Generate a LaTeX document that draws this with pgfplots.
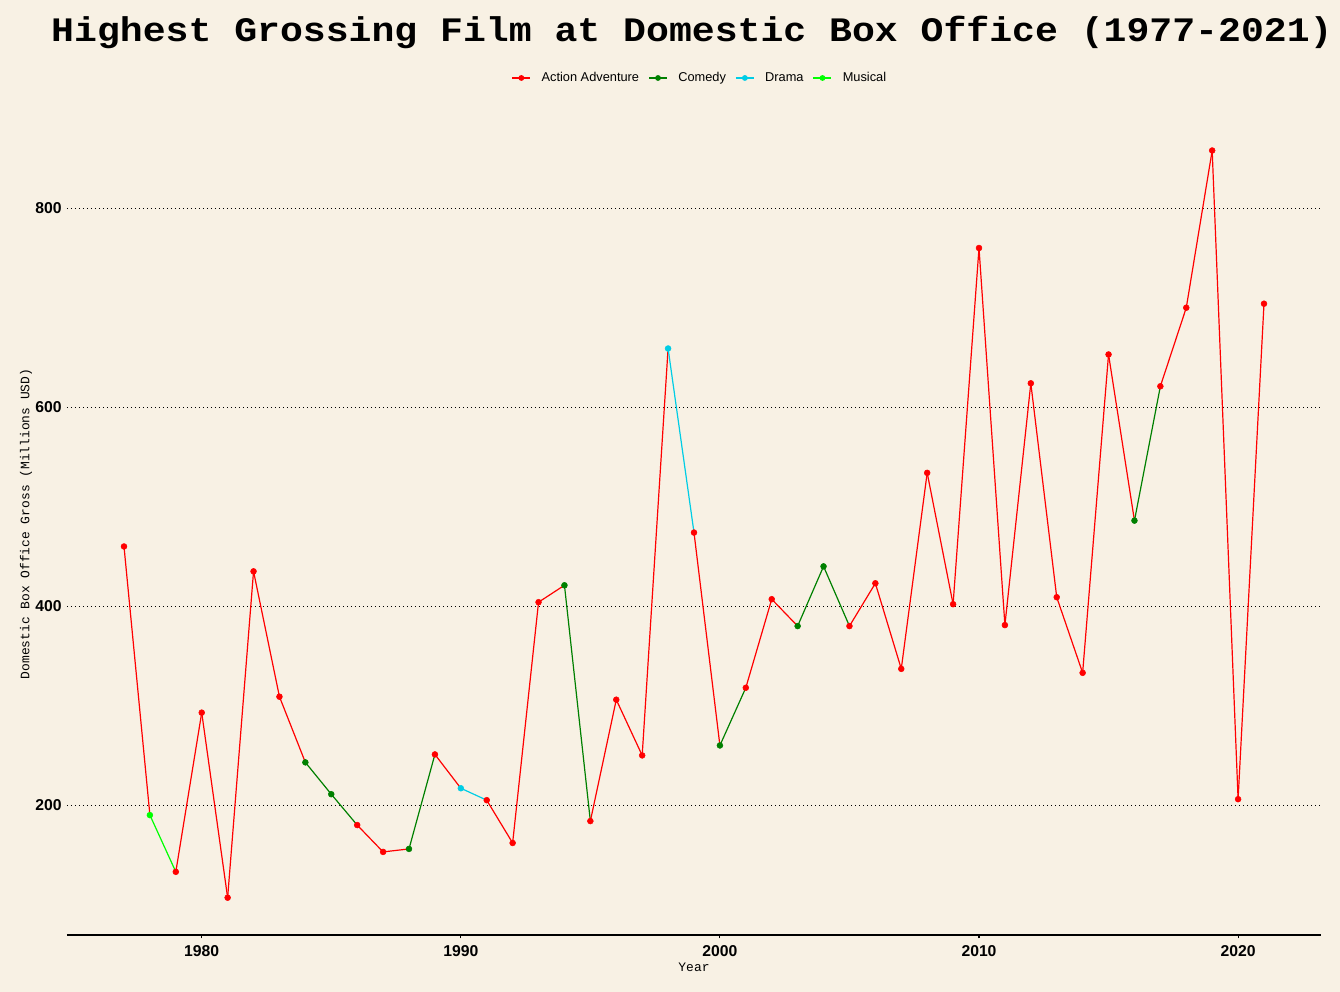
\documentclass[border=0pt]{standalone}
\usepackage{fontspec}
\setmainfont{Liberation Sans}
\newfontfamily\mono{Liberation Mono}
\usepackage{pgfplots}
\usepackage{pgfplotstable}
\pgfplotsset{compat=1.18}

\definecolor{bgcol}{RGB}{248,241,228}
\definecolor{actcol}{RGB}{255,0,0}
\definecolor{comcol}{RGB}{0,128,0}
\definecolor{dracol}{RGB}{0,205,230}
\definecolor{muscol}{RGB}{0,255,0}

% g: 0 Action Adventure, 1 Comedy, 2 Drama, 3 Musical
\pgfplotstableread{
year gross g
1977 460 0
1978 190 3
1979 133 0
1980 293 0
1981 107 0
1982 435 0
1983 309 0
1984 243 1
1985 211 1
1986 180 0
1987 153 0
1988 156 1
1989 251 0
1990 217 2
1991 205 0
1992 162 0
1993 404 0
1994 421 1
1995 184 0
1996 306 0
1997 250 0
1998 659 2
1999 474 0
2000 260 1
2001 318 0
2002 407 0
2003 380 1
2004 440 1
2005 380 0
2006 423 0
2007 337 0
2008 534 0
2009 402 0
2010 760 0
2011 381 0
2012 624 0
2013 409 0
2014 333 0
2015 653 0
2016 486 1
2017 621 0
2018 700 0
2019 858 0
2020 206 0
2021 704 0
}\films

\begin{document}
\begin{tikzpicture}
\fill[bgcol] (-50.25pt,-42.75pt) rectangle (954.75pt,701.25pt);
\begin{axis}[
    at={(0pt,0pt)}, anchor=south west,
    scale only axis,
    width=940.5pt, height=616.5pt,
    xmin=1974.8, xmax=2023.2,
    ymin=69.5, ymax=895.7,
    xtick={1980,1990,2000,2010,2020},
    ytick={200,400,600,800},
    axis lines*=left,
    axis line style={-, line width=0.8pt, black},
    y axis line style={draw=none},
    ytick style={draw=none},
    xtick style={black, line width=0.8pt},
    tick align=outside,
    major tick length=2.5pt,
    ymajorgrids=true,
    grid style={black, line width=0.8pt, dash pattern=on 0.8pt off 2.2pt},
    /pgf/number format/assume math mode=true,
    /pgf/number format/1000 sep={},
    ticklabel style={font=\fontsize{11.8}{12}\selectfont\bfseries},
    xticklabel style={yshift=-2pt},
    yticklabel style={xshift=2pt},
    xlabel={Year},
    ylabel={Domestic Box Office Gross (Millions USD)},
    every axis x label/.style={at={(axis description cs:0.5,-0.0389)}, anchor=center, font=\mono\fontsize{9.7}{10}\selectfont},
    every axis y label/.style={at={(axis description cs:-0.0327,0.5)}, rotate=90, anchor=center, font=\mono\fontsize{9.7}{10}\selectfont},
    every axis title shift=0pt,
    title={\scalebox{1}[0.9]{Highest Grossing Film at Domestic Box Office (1977-2021)}},
    title style={at={(axis description cs:0.4984,1.0867)}, anchor=base, font=\mono\bfseries\fontsize{28.6}{30}\selectfont},
    colormap={genre}{rgb255=(255,0,0) rgb255=(0,128,0) rgb255=(0,205,230) rgb255=(0,255,0)},
    point meta min=0, point meta max=3,
    legend columns=4,
    legend style={at={(axis description cs:0.505,1.0426)}, anchor=center, draw=none, fill=none,
        font=\fontsize{9.6}{10}\selectfont,
        /tikz/every odd column/.append style={column sep=6pt},
        /tikz/every even column/.append style={column sep=5pt}},
    legend image code/.code={\draw[mark repeat=2, mark phase=2, #1] plot coordinates {(0pt,0pt) (6.75pt,0pt) (13.5pt,0pt)};},
]
\addlegendimage{actcol, line width=0.9pt, mark=*, mark size=1.7pt}
\addlegendentry{Action Adventure}
\addlegendimage{comcol, line width=0.9pt, mark=*, mark size=1.7pt}
\addlegendentry{Comedy}
\addlegendimage{dracol, line width=0.9pt, mark=*, mark size=1.7pt}
\addlegendentry{Drama}
\addlegendimage{muscol, line width=0.9pt, mark=*, mark size=1.7pt}
\addlegendentry{Musical}

\addplot[mesh, shader=flat corner, line width=0.9pt, point meta=\thisrow{g}, forget plot]
    table[x=year, y=gross] {\films};
\addplot[scatter, only marks, mark=*, mark size=2.2pt, point meta=\thisrow{g},
    scatter/use mapped color={draw=mapped color, fill=mapped color}, forget plot]
    table[x=year, y=gross] {\films};
\end{axis}
\pgfresetboundingbox
\path[use as bounding box] (-50.25pt,-42.75pt) rectangle (954.75pt,701.25pt);
\end{tikzpicture}
\end{document}
